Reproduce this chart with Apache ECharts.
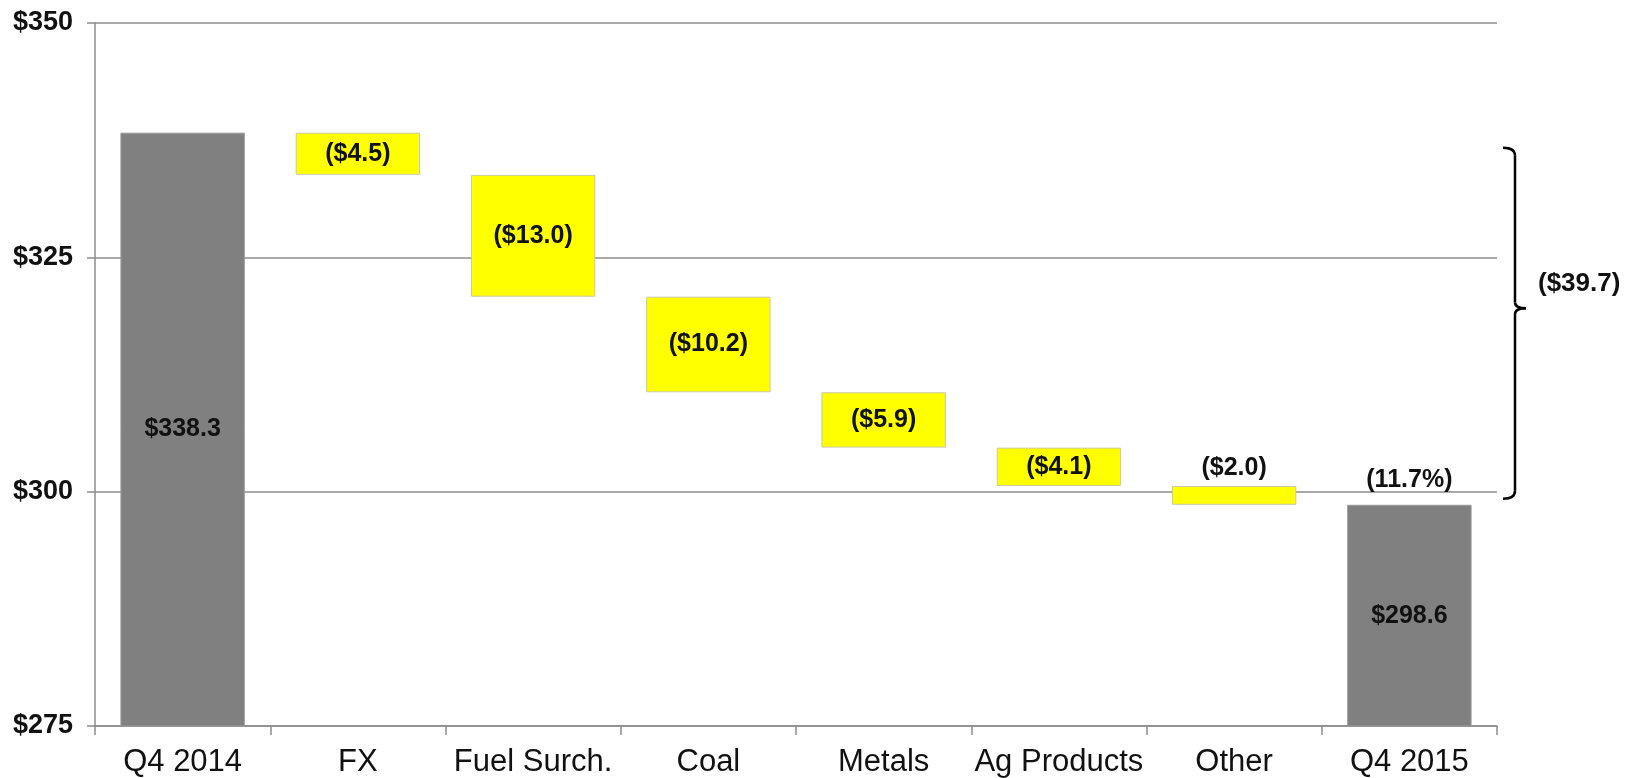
<!DOCTYPE html>
<html>
<head>
<meta charset="utf-8">
<script src="https://cdn.jsdelivr.net/npm/echarts@6/dist/echarts.min.js"></script>
<style>
  html, body { margin: 0; padding: 0; background: #fff; }
  #chart { width: 1630px; height: 778px; }
</style>
</head>
<body>
<div id="chart"></div>
<script>
const categories = ['Q4 2014', 'FX', 'Fuel Surch.', 'Coal', 'Metals', 'Ag Products', 'Other', 'Q4 2015']
const startTotal = 338.3
const changes = [-4.5, -13.0, -10.2, -5.9, -4.1, -2.0]
const endTotal = 298.6
const yMin = 275
const yMax = 350
const yStep = 25

const fmt = v => v < 0 ? '($' + Math.abs(v).toFixed(1) + ')' : '$' + v.toFixed(1)

// waterfall: invisible base + visible piece
const baseData = [0]
const pieceData = [startTotal]
let running = startTotal
changes.forEach(c => {
    running += c
    baseData.push(+running.toFixed(1))
    pieceData.push(Math.abs(c))
})
baseData.push(0)
pieceData.push(endTotal)

const totalChange = changes.reduce((a, b) => a + b, 0)
const pct = (endTotal - startTotal) / startTotal * 100

const GRAY = '#808080'
const YELLOW = '#ffff00'
const FONT = 'Liberation Sans, Arial, sans-serif'

const pieceItems = pieceData.map((v, i) => {
    const isTotal = i === 0 || i === categories.length - 1
    const value = isTotal ? v : changes[i - 1]
    const small = !isTotal && Math.abs(value) < 3
    return {
        value: v,
        itemStyle: {
            color: isTotal ? GRAY : YELLOW,
            borderColor: isTotal ? '#9a9a9a' : '#c9c9a8',
            borderWidth: 1
        },
        label: {
            show: true,
            position: small ? 'top' : 'inside',
            distance: 5,
            formatter: () => fmt(value)
        }
    }
})

const chart = echarts.init(document.getElementById('chart'))
chart.setOption({
    animation: false,
    textStyle: {fontFamily: FONT},
    grid: {left: 95, right: 133, top: 23, bottom: 51},
    xAxis: {
        type: 'category',
        data: categories,
        axisLine: {lineStyle: {color: '#8c8c8c', width: 1.5}},
        axisTick: {show: true, length: 9, lineStyle: {color: '#8c8c8c', width: 1.5}},
        axisLabel: {color: '#111', fontSize: 31, fontFamily: FONT, margin: 21, interval: 0}
    },
    yAxis: {
        type: 'value',
        min: yMin,
        max: yMax,
        interval: yStep,
        axisLine: {show: true, lineStyle: {color: '#8c8c8c', width: 1.5}},
        axisTick: {show: true, length: 8, lineStyle: {color: '#8c8c8c', width: 1.5}},
        splitLine: {lineStyle: {color: '#8c8c8c', width: 1.5}},
        axisLabel: {
            color: '#111', fontSize: 27, fontWeight: 'bold', fontFamily: FONT, margin: 22,
            formatter: v => '$' + v
        }
    },
    series: [
        {
            type: 'bar',
            stack: 'wf',
            barWidth: '71%',
            silent: true,
            itemStyle: {color: 'transparent'},
            data: baseData
        },
        {
            type: 'bar',
            stack: 'wf',
            barWidth: '71%',
            label: {color: '#111', fontSize: 25, fontWeight: 'bold', fontFamily: FONT},
            data: pieceItems
        },
        {
            type: 'scatter',
            symbolSize: 0,
            silent: true,
            itemStyle: {opacity: 1},
            data: categories.map((c, i) => i === categories.length - 1 ? endTotal : '-'),
            label: {
                show: true,
                position: 'top',
                distance: 12,
                color: '#111', fontSize: 25, fontWeight: 'bold', fontFamily: FONT,
                formatter: () => '(' + Math.abs(pct).toFixed(1) + '%)'
            }
        }
    ]
})

// bracket on the right for the total change
const yTop = chart.convertToPixel({yAxisIndex: 0}, startTotal) + 15
const yBot = chart.convertToPixel({yAxisIndex: 0}, endTotal) - 6
const yMid = yTop + (yBot - yTop) * 0.457
const xr = 1630 - 133
const x0 = xr + 6, x1 = xr + 18, x2 = xr + 29
const bStyle = {stroke: '#000', lineWidth: 2.5, fill: null}
chart.setOption({
    graphic: [
        {type: 'bezierCurve', shape: {x1: x0, y1: yTop, cpx1: x1, cpy1: yTop, x2: x1, y2: yTop + 8}, style: bStyle},
        {type: 'line', shape: {x1: x1, y1: yTop + 8, x2: x1, y2: yMid - 6}, style: bStyle},
        {type: 'bezierCurve', shape: {x1: x1, y1: yMid - 6, cpx1: x1, cpy1: yMid, x2: x2, y2: yMid}, style: bStyle},
        {type: 'bezierCurve', shape: {x1: x2, y1: yMid, cpx1: x1, cpy1: yMid, x2: x1, y2: yMid + 6}, style: bStyle},
        {type: 'line', shape: {x1: x1, y1: yMid + 6, x2: x1, y2: yBot - 8}, style: bStyle},
        {type: 'bezierCurve', shape: {x1: x1, y1: yBot - 8, cpx1: x1, cpy1: yBot, x2: x0, y2: yBot}, style: bStyle},
        {
            type: 'text',
            x: xr + 41,
            y: yMid - 24,
            style: {
                text: fmt(totalChange),
                font: 'bold 26px ' + FONT,
                fill: '#111',
                verticalAlign: 'middle'
            }
        }
    ]
})
</script>
</body>
</html>
